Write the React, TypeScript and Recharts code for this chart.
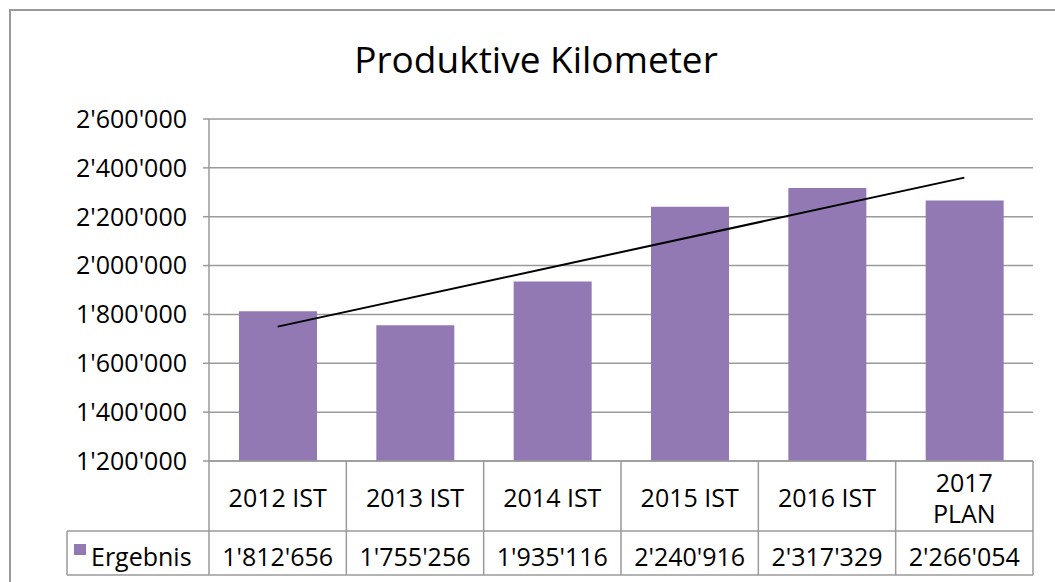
import React from 'react';
import { ComposedChart, Bar, XAxis, YAxis, CartesianGrid, ReferenceLine } from 'recharts';

const categories = ['2012 IST', '2013 IST', '2014 IST', '2015 IST', '2016 IST', '2017 PLAN'];
const ergebnis = [1812656, 1755256, 1935116, 2240916, 2317329, 2266054];
const yTicks = [1200000, 1400000, 1600000, 1800000, 2000000, 2200000, 2400000, 2600000];
// linear trend line (Excel), start and end
const trendEnds = [1750000, 2360000];

const data = categories.map((name, i) => ({ name, value: ergebnis[i] }));

const W = 1055;
const H = 582;
const PLOT_LEFT = 209;
const PLOT_RIGHT = 1033;
const PLOT_TOP = 119;
const PLOT_BOTTOM = 461;
const ROW1_BOTTOM = 531;
const ROW2_BOTTOM = 575;
const LEGEND_LEFT = 67;
const BAND = (PLOT_RIGHT - PLOT_LEFT) / categories.length;

const FONT = '"Open Sans", sans-serif';
const GRID = '#9a9a9a';
const BAR = '#9279b3';

const fmt = (n: number) => String(n).replace(/\B(?=(\d{3})+(?!\d))/g, "'");

const TableTick = (props: any) => {
    const { x, payload, index } = props;
    const right = x + BAND / 2;
    const label = String(payload.value);
    const lines = label.length > 8 ? label.split(' ') : [label];
    return (
        <g fontFamily={FONT} fontSize={25} fill="#000">
            <line x1={right} y1={PLOT_BOTTOM} x2={right} y2={ROW2_BOTTOM} stroke={GRID} strokeWidth={1.5} />
            {index === 0 && (
                <g>
                    <line x1={PLOT_LEFT} y1={PLOT_BOTTOM} x2={PLOT_LEFT} y2={ROW2_BOTTOM} stroke={GRID} strokeWidth={1.5} />
                    <line x1={LEGEND_LEFT} y1={ROW1_BOTTOM} x2={LEGEND_LEFT} y2={ROW2_BOTTOM} stroke={GRID} strokeWidth={1.5} />
                    <line x1={LEGEND_LEFT} y1={ROW1_BOTTOM} x2={PLOT_RIGHT} y2={ROW1_BOTTOM} stroke={GRID} strokeWidth={1.5} />
                    <line x1={LEGEND_LEFT} y1={ROW2_BOTTOM} x2={PLOT_RIGHT} y2={ROW2_BOTTOM} stroke={GRID} strokeWidth={1.5} />
                    <rect x={74} y={544} width={12} height={11} fill={BAR} />
                    <text x={91} y={566} fill="#000">Ergebnis</text>
                </g>
            )}
            {lines.length === 1 ? (
                <text x={x} y={507} textAnchor="middle" fill="#000">{lines[0]}</text>
            ) : (
                lines.map((l, i) => (
                    <text key={i} x={x} y={492 + i * 31} textAnchor="middle" fill="#000">{l}</text>
                ))
            )}
            <text x={x} y={566} textAnchor="middle" fill="#000">{fmt(ergebnis[index])}</text>
        </g>
    );
};

const App: React.FC = () => {
    return (
        <div style={{ position: 'absolute', left: 0, top: 0, width: W, height: H, overflow: 'hidden', background: '#fff' }}>
            <div style={{ position: 'absolute', left: 9, top: 9, width: W + 20, height: H + 20, border: `2px solid ${GRID}` }} />
            <div
                style={{
                    position: 'absolute', left: 0, width: 1072, top: 34, textAlign: 'center',
                    fontFamily: FONT, fontSize: 37, lineHeight: '50px', color: '#000',
                }}
            >
                Produktive Kilometer
            </div>
            <div style={{ position: 'absolute', left: 0, top: 0 }}>
                <ComposedChart
                    width={W}
                    height={H}
                    data={data}
                    margin={{ top: PLOT_TOP, right: W - PLOT_RIGHT, bottom: 0, left: 0 }}
                >
                    <CartesianGrid horizontal vertical={false} stroke={GRID} strokeWidth={1.5} />
                    <XAxis
                        dataKey="name"
                        height={H - PLOT_BOTTOM}
                        axisLine={{ stroke: GRID, strokeWidth: 1.5 }}
                        tickLine={false}
                        tick={<TableTick />}
                        interval={0}
                    />
                    <YAxis
                        width={PLOT_LEFT}
                        domain={[1200000, 2600000]}
                        ticks={yTicks}
                        tickFormatter={fmt}
                        axisLine={{ stroke: GRID, strokeWidth: 1.5 }}
                        tickLine={{ stroke: GRID, strokeWidth: 1.5 }}
                        tickSize={6}
                        tickMargin={16}
                        tick={{ fontFamily: FONT, fontSize: 25, fill: '#000' }}
                    />
                    <Bar dataKey="value" fill={BAR} barSize={78} isAnimationActive={false} />
                    <ReferenceLine
                        segment={[
                            { x: categories[0], y: trendEnds[0] },
                            { x: categories[categories.length - 1], y: trendEnds[1] },
                        ]}
                        stroke="#000"
                        strokeWidth={2}
                    />
                </ComposedChart>
            </div>
        </div>
    );
};

export default App;
